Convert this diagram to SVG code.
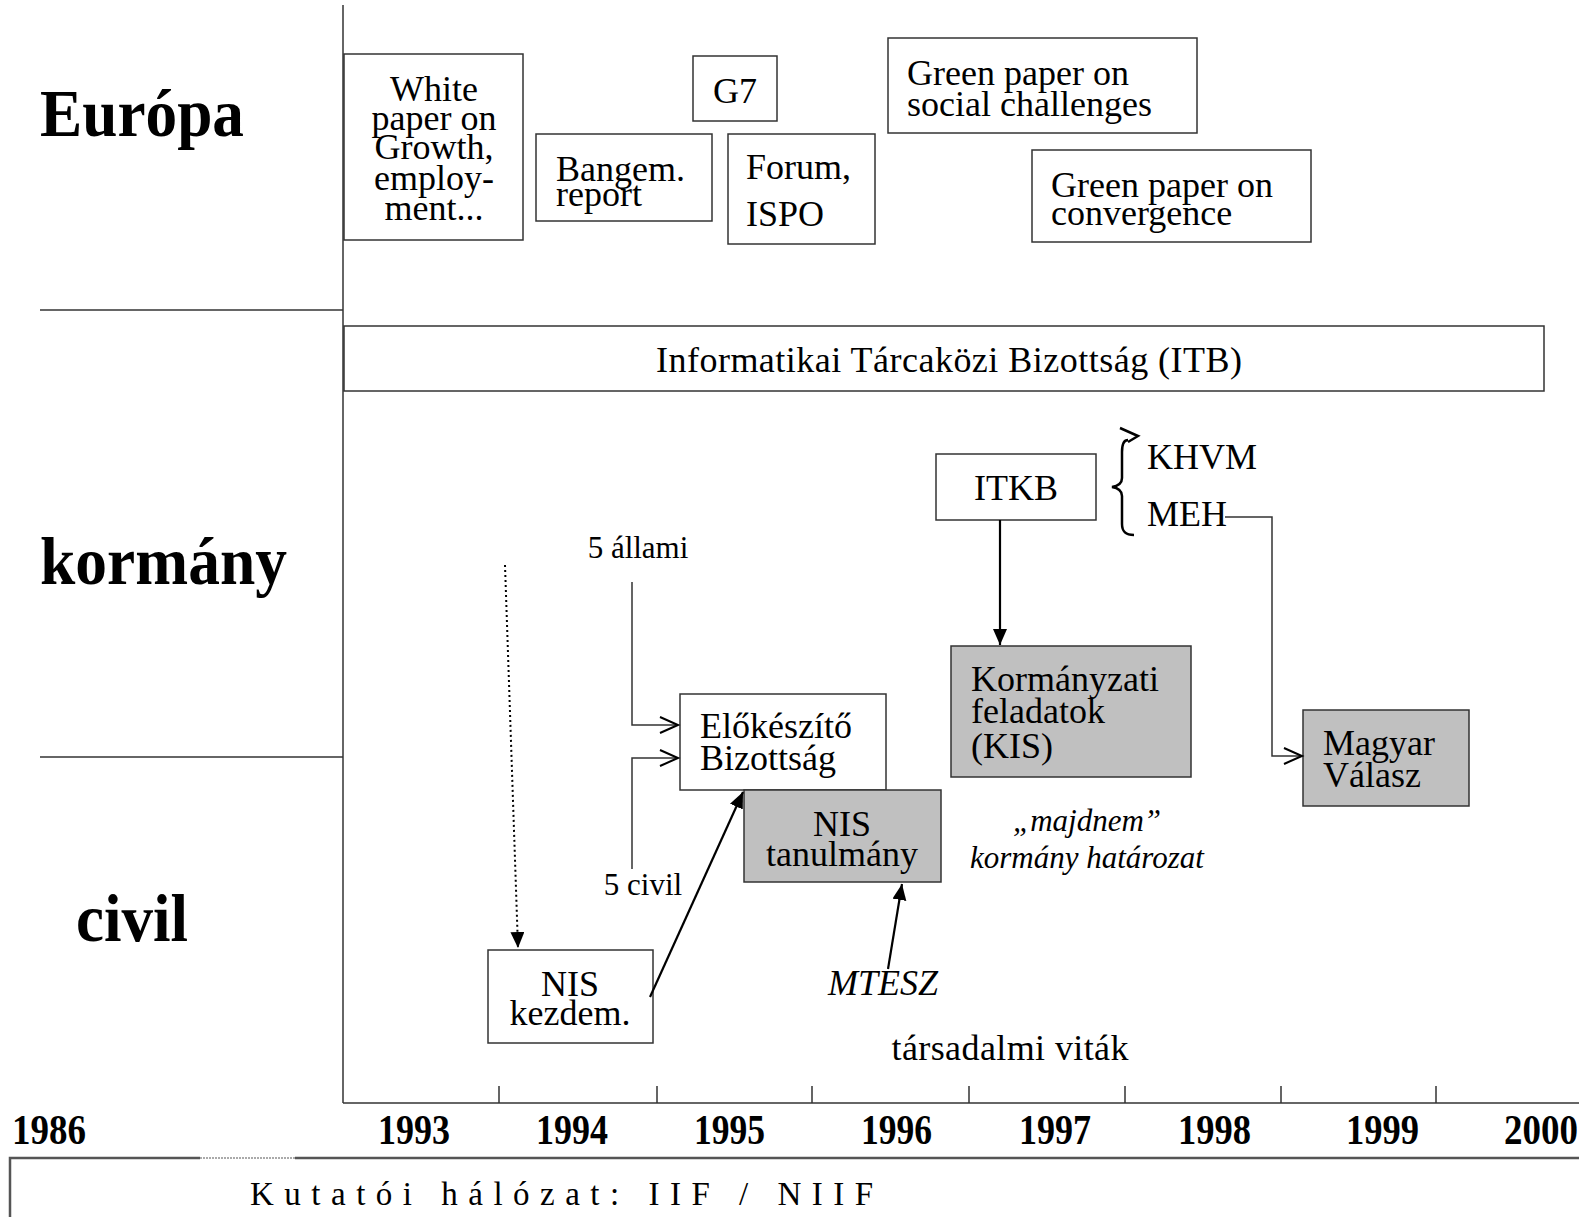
<svg xmlns="http://www.w3.org/2000/svg" width="1579" height="1217" viewBox="0 0 1579 1217">
<style>
text{font-family:"Liberation Serif","Times New Roman",serif;fill:#000}
.b{fill:#fff;stroke:#333;stroke-width:1.5}
.g{fill:#c0c0c0;stroke:#333;stroke-width:1.5}
.t{font-size:36px}
.s{font-size:31px}
.h{font-size:68px;font-weight:bold}
.y{font-size:42px;font-weight:bold}
.ln{fill:none;stroke:#333;stroke-width:1.5}
.ar{fill:none;stroke:#000;stroke-width:2.2}
</style>
<defs>
<marker id="fa" markerWidth="18" markerHeight="16" refX="16" refY="7" orient="auto" markerUnits="userSpaceOnUse">
<path d="M0,0 L16,7 L0,14 Z" fill="#000"/>
</marker>
<marker id="oa" markerWidth="24" markerHeight="24" refX="20" refY="10" orient="auto" markerUnits="userSpaceOnUse">
<path d="M2,2 L20,10 L2,18" fill="none" stroke="#000" stroke-width="2"/>
</marker>
</defs>
<rect width="1579" height="1217" fill="#fff"/>

<g id="frame">
<line class="ln" x1="343" y1="5" x2="343" y2="1103"/>
<line class="ln" x1="40" y1="310" x2="343" y2="310"/>
<line class="ln" x1="40" y1="757" x2="343" y2="757"/>
<line class="ln" x1="343" y1="1103" x2="1579" y2="1103" stroke-width="2"/>
<path class="ln" d="M499,1086V1103M657,1086V1103M812,1086V1103M969,1086V1103M1125,1086V1103M1281,1086V1103M1436,1086V1103"/>
<text class="h" x="40" y="136" textLength="204" lengthAdjust="spacingAndGlyphs">Európa</text>
<text class="h" x="40" y="584" textLength="247" lengthAdjust="spacingAndGlyphs">kormány</text>
<text class="h" x="76" y="941" textLength="112" lengthAdjust="spacingAndGlyphs">civil</text>
<text class="y" x="12" y="1144" textLength="74" lengthAdjust="spacingAndGlyphs">1986</text>
<text class="y" x="378" y="1144" textLength="72" lengthAdjust="spacingAndGlyphs">1993</text>
<text class="y" x="536" y="1144" textLength="72" lengthAdjust="spacingAndGlyphs">1994</text>
<text class="y" x="694" y="1144" textLength="71" lengthAdjust="spacingAndGlyphs">1995</text>
<text class="y" x="861" y="1144" textLength="71" lengthAdjust="spacingAndGlyphs">1996</text>
<text class="y" x="1019" y="1144" textLength="72" lengthAdjust="spacingAndGlyphs">1997</text>
<text class="y" x="1178" y="1144" textLength="73" lengthAdjust="spacingAndGlyphs">1998</text>
<text class="y" x="1346" y="1144" textLength="73" lengthAdjust="spacingAndGlyphs">1999</text>
<text class="y" x="1504" y="1144" textLength="74" lengthAdjust="spacingAndGlyphs">2000</text>
</g>

<g id="kutatoi">
<path d="M10,1217V1158H200M295,1158H1579" fill="none" stroke="#555" stroke-width="2.5"/>
<line x1="200" y1="1158" x2="295" y2="1158" stroke="#aaa" stroke-width="2" stroke-dasharray="2,1"/>
<text x="250" y="1205" font-size="33" letter-spacing="10.5">Kutatói hálózat: IIF / NIIF</text>
</g>

<g id="white-paper">
<rect class="b" x="344" y="54" width="179" height="186"/>
<text class="t" text-anchor="middle" x="434"><tspan x="434" y="101">White</tspan><tspan x="434" y="130">paper on</tspan><tspan x="434" y="159">Growth,</tspan><tspan x="434" y="190">employ-</tspan><tspan x="434" y="220">ment...</tspan></text>
</g>
<g id="g7">
<rect class="b" x="693" y="56" width="84" height="65"/>
<text class="t" text-anchor="middle" x="735" y="103">G7</text>
</g>
<g id="bangem">
<rect class="b" x="536" y="134" width="176" height="87"/>
<text class="t" x="556"><tspan x="556" y="181">Bangem.</tspan><tspan x="556" y="206">report</tspan></text>
</g>
<g id="forum">
<rect class="b" x="728" y="134" width="147" height="110"/>
<text class="t" x="746"><tspan x="746" y="179">Forum,</tspan><tspan x="746" y="226">ISPO</tspan></text>
</g>
<g id="gp-social">
<rect class="b" x="888" y="38" width="309" height="95"/>
<text class="t" x="907"><tspan x="907" y="85">Green paper on</tspan><tspan x="907" y="116">social challenges</tspan></text>
</g>
<g id="gp-convergence">
<rect class="b" x="1032" y="150" width="279" height="92"/>
<text class="t" x="1051"><tspan x="1051" y="197">Green paper on</tspan><tspan x="1051" y="225">convergence</tspan></text>
</g>
<g id="itb">
<rect class="b" x="344" y="326" width="1200" height="65"/>
<text class="t" text-anchor="middle" x="949" y="372" textLength="586" lengthAdjust="spacing">Informatikai Tárcaközi Bizottság (ITB)</text>
</g>
<g id="itkb">
<rect class="b" x="936" y="454" width="160" height="66"/>
<text class="t" text-anchor="middle" x="1016" y="500">ITKB</text>
</g>
<g id="khvm-meh">
<path d="M1128,440 C1124,440 1122,444 1122,452 L1122,478 C1122,484 1118,486 1112,487 C1118,488 1122,490 1122,496 L1122,524 C1122,532 1126,535 1134,535" fill="none" stroke="#000" stroke-width="2.5"/>
<path d="M1120,428 L1138,436 L1128,442" fill="none" stroke="#000" stroke-width="2.5"/>
<text class="t" x="1147" y="469">KHVM</text>
<text class="t" x="1147" y="526">MEH</text>
</g>
<g id="kormanyzati">
<rect class="g" x="951" y="646" width="240" height="131"/>
<text class="t" x="971"><tspan x="971" y="691">Kormányzati</tspan><tspan x="971" y="723">feladatok</tspan><tspan x="971" y="758">(KIS)</tspan></text>
</g>
<g id="magyar">
<rect class="g" x="1303" y="710" width="166" height="96"/>
<text class="t" x="1323"><tspan x="1323" y="755">Magyar</tspan><tspan x="1323" y="787">Válasz</tspan></text>
</g>
<g id="elokeszito">
<rect class="b" x="680" y="694" width="206" height="96"/>
<text class="t" x="700"><tspan x="700" y="738">Előkészítő</tspan><tspan x="700" y="770">Bizottság</tspan></text>
</g>
<g id="nis-tanulmany">
<rect class="g" x="744" y="790" width="197" height="92"/>
<text class="t" text-anchor="middle" x="842"><tspan x="842" y="836">NIS</tspan><tspan x="842" y="866">tanulmány</tspan></text>
</g>
<g id="nis-kezdem">
<rect class="b" x="488" y="950" width="165" height="93"/>
<text class="t" text-anchor="middle" x="570"><tspan x="570" y="996">NIS</tspan><tspan x="570" y="1025">kezdem.</tspan></text>
</g>
<g id="labels">
<text class="s" text-anchor="middle" x="638" y="558">5 állami</text>
<text class="s" text-anchor="middle" x="643" y="895">5 civil</text>
<text class="s" font-style="italic" font-size="32" text-anchor="middle" x="1087" y="831">„majdnem”</text>
<text class="s" font-style="italic" font-size="32" text-anchor="middle" x="1087" y="868">kormány határozat</text>
<text class="t" font-style="italic" text-anchor="middle" x="883" y="995">MTESZ</text>
<text font-size="36" text-anchor="middle" x="1010" y="1060" textLength="237" lengthAdjust="spacing">társadalmi viták</text>
</g>

<g id="connectors">
<path class="ln" d="M632,582 V725 H678" marker-end="url(#oa)"/>
<path class="ln" d="M632,869 V758 H678" marker-end="url(#oa)"/>
<path class="ln" d="M1225,517 H1272 V756 H1302" marker-end="url(#oa)"/>
<line class="ar" x1="1000" y1="520" x2="1000" y2="645" marker-end="url(#fa)"/>
<line class="ar" x1="650" y1="997" x2="743" y2="792" marker-end="url(#fa)"/>
<line class="ar" x1="888" y1="969" x2="902" y2="884" marker-end="url(#fa)"/>
<line x1="505" y1="565" x2="518" y2="948" stroke="#000" stroke-width="2" stroke-dasharray="2,3" marker-end="url(#fa)"/>
</g>
</svg>
